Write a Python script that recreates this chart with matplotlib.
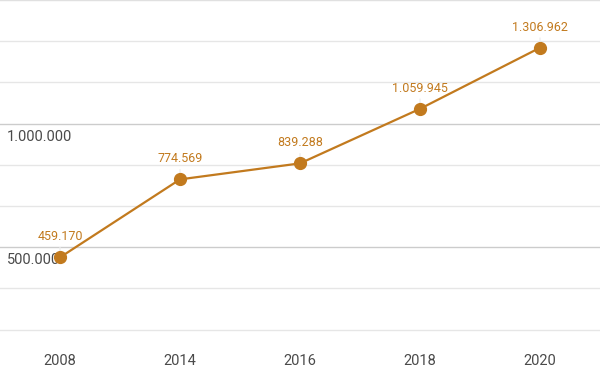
import matplotlib.pyplot as plt
from matplotlib.ticker import MultipleLocator
import matplotlib.transforms as mtransforms

years = ["2008", "2014", "2016", "2018", "2020"]
values = [459170, 774569, 839288, 1059945, 1306962]
labels = ["459.170", "774.569", "839.288", "1.059.945", "1.306.962"]
y_ticks = [500000, 1000000]
y_tick_labels = ["500.000", "1.000.000"]

plt.rcParams["font.family"] = ["Roboto", "DejaVu Sans"]
color = "#c27a1e"

fig = plt.figure(figsize=(6, 3.71), dpi=100)
ax = fig.add_axes([0, 31 / 371, 1, 340 / 371])

x = list(range(len(years)))
ax.set_xlim(-0.5, len(years) - 0.5)
ax.set_ylim(125000, 1500000)

# gridlines
ax.yaxis.set_minor_locator(MultipleLocator(500000 / 3))
ax.set_yticks(y_ticks)
ax.grid(axis="y", which="minor", color="#e6e6e6", linewidth=1)
ax.grid(axis="y", which="major", color="#cccccc", linewidth=1)
ax.axhline(1500000, color="#e0e0e0", linewidth=1.5)
ax.set_axisbelow(True)
ax.tick_params(axis="y", which="both", left=False, labelleft=False)

for s in ax.spines.values():
    s.set_visible(False)

ax.set_xticks(x)
ax.set_xticklabels(years, fontsize=10.5, color="#4a4a4a")
ax.tick_params(axis="x", length=0, pad=10)

# y labels inside the plot
trans = mtransforms.blended_transform_factory(ax.transAxes, ax.transData)
for v, t in zip(y_ticks, y_tick_labels):
    ax.text(0.011, v - 25000, t, transform=trans, fontsize=10.5, color="#4a4a4a",
            va="top", ha="left")

ax.plot(x, values, color=color, linewidth=1.6, marker="o", markersize=8.5, zorder=3)

for xi, v, t in zip(x, values, labels):
    ax.annotate("", xy=(xi, v), xytext=(0, 9), textcoords="offset points",
                xycoords="data", arrowprops=dict(arrowstyle="-", color="#eeeeee", lw=1),
                zorder=2)
    ax.annotate(t, xy=(xi, v), xytext=(0, 10), textcoords="offset points",
                ha="center", va="bottom", fontsize=9, color=color)

fig.savefig("out.png", dpi=100)
plt.close(fig)
